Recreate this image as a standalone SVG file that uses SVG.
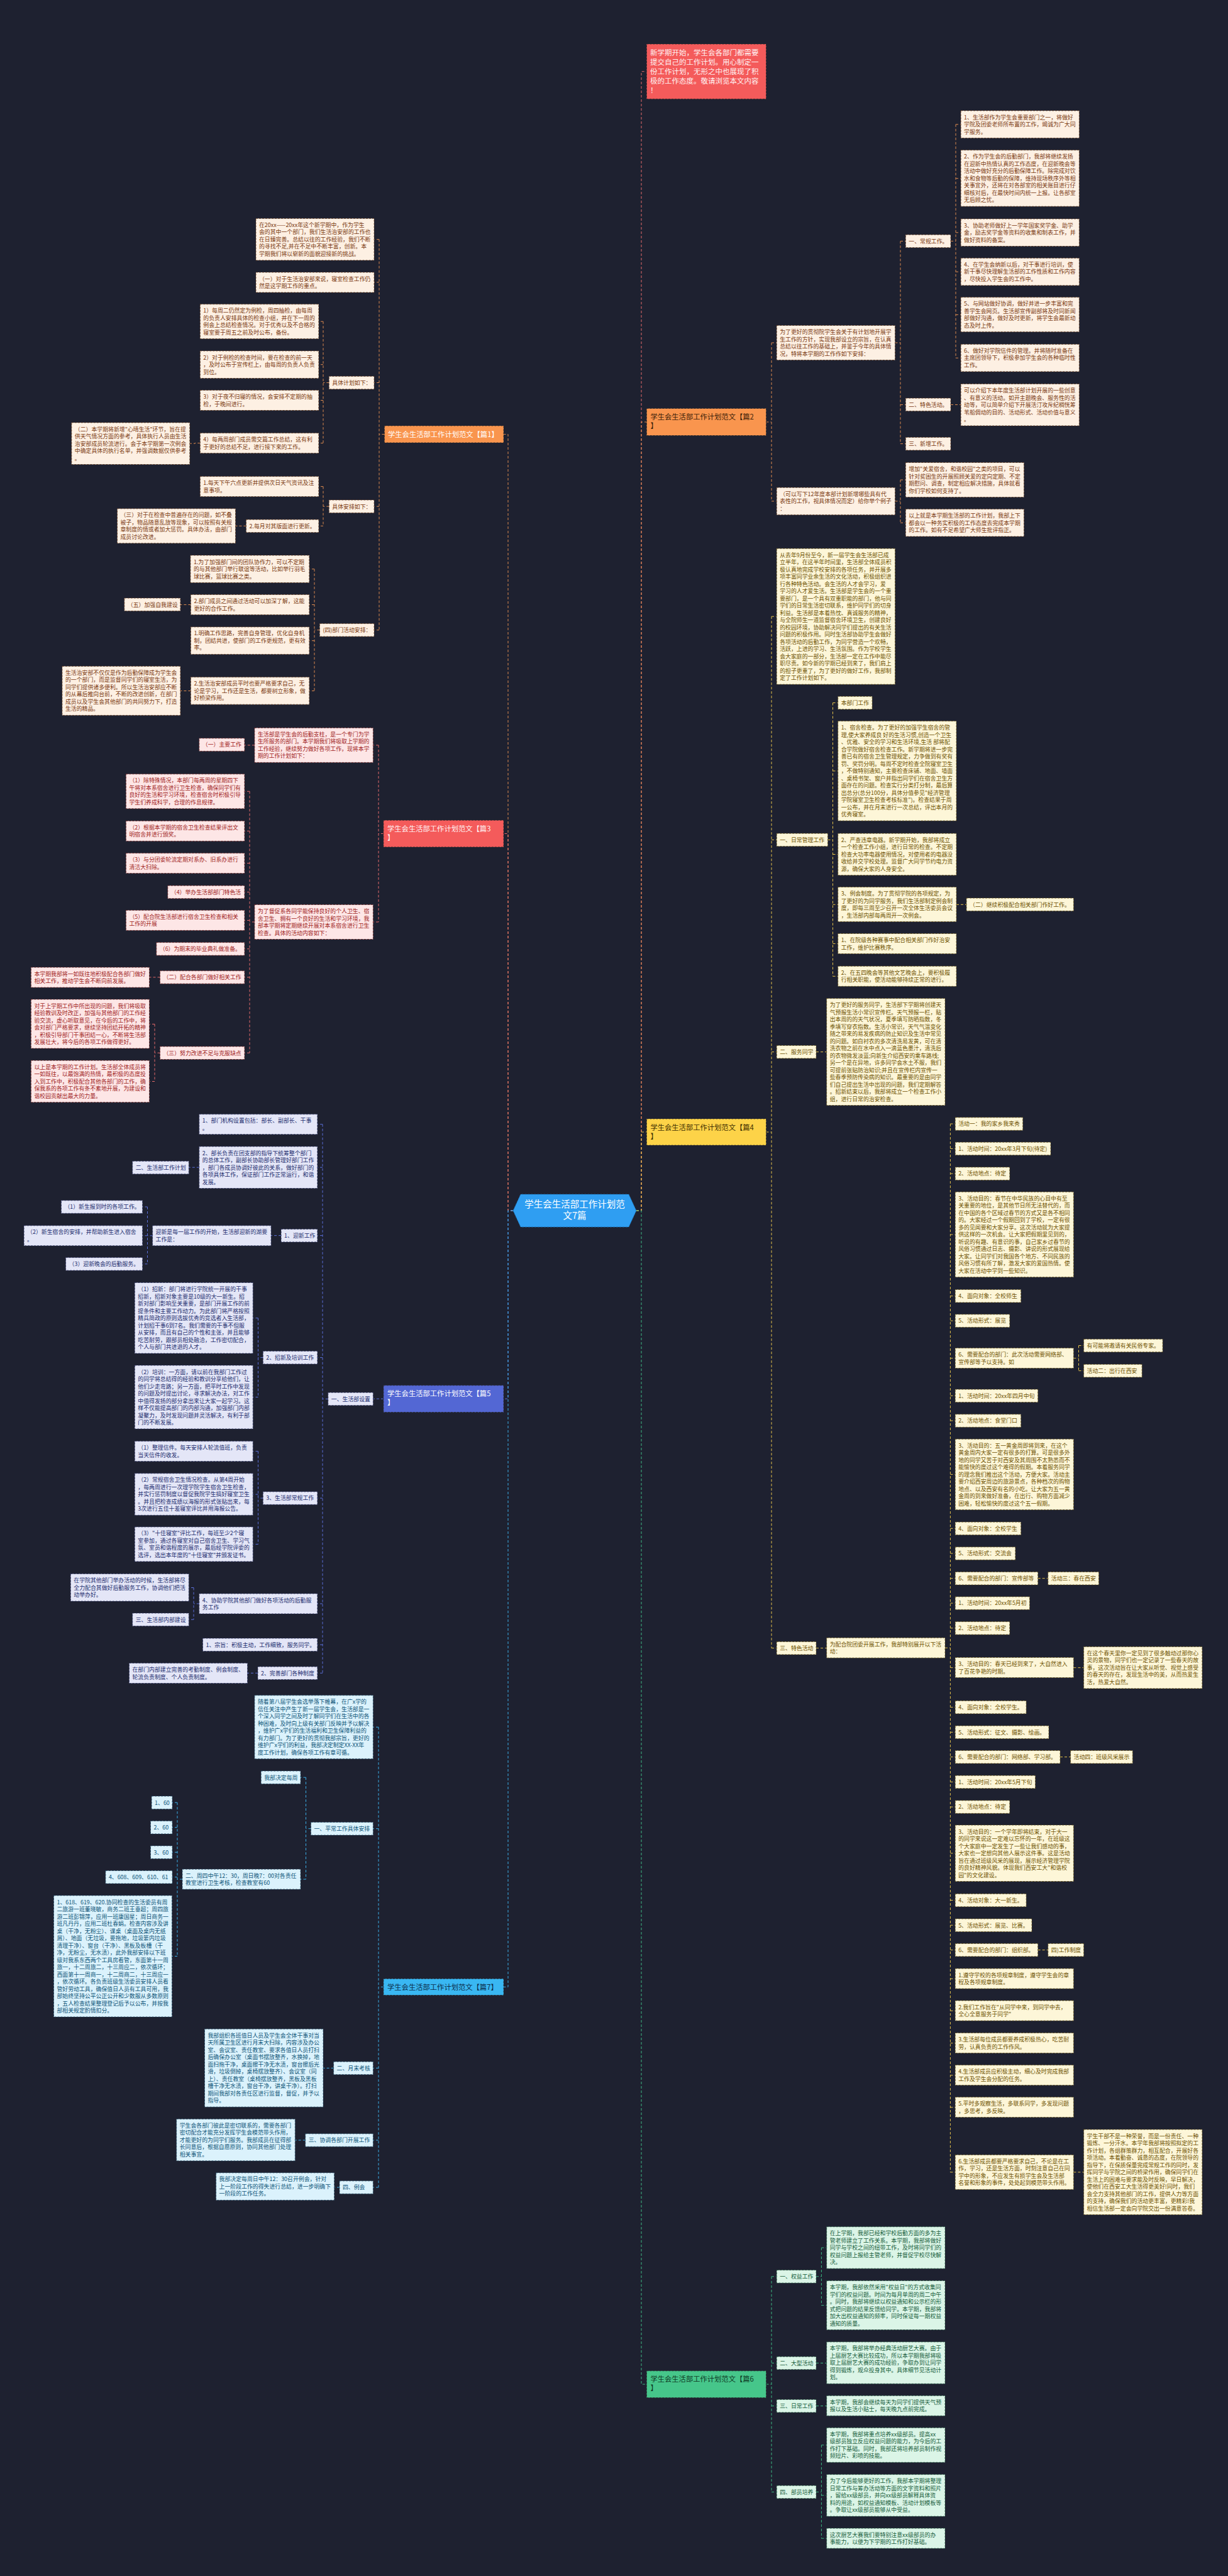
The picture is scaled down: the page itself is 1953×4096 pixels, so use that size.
<svg xmlns="http://www.w3.org/2000/svg" width="1953" height="4096" viewBox="0 0 1953 4096">
<style>
text{font-family:"Noto Sans CJK SC","Noto Sans CJK JP","Liberation Sans",sans-serif;font-size:8.9px}
.n rect{stroke-width:0.8;stroke-dasharray:3 2}
.c1 rect{fill:#fdf0e3;stroke:#5a3418}.c1 text{fill:#7a3910}
.c3 rect{fill:#fde6e6;stroke:#6a2020}.c3 text{fill:#a11d1d}
.c5 rect{fill:#e4e6f7;stroke:#2a3060}.c5 text{fill:#222c6e}
.c7 rect{fill:#dbf2fc;stroke:#1d4560}.c7 text{fill:#0c5478}
.c4 rect{fill:#fdf6d8;stroke:#5c4a10}.c4 text{fill:#6e5200}
.c6 rect{fill:#dbf5e7;stroke:#1d5038}.c6 text{fill:#155c3a}
.b text{font-size:11.3px}
.b rect{stroke-width:0.8;stroke-dasharray:3 2;stroke:#2a2a2a}
.bo rect{fill:#f9954e}.bo text{fill:#ffffff}
.bo2 rect{fill:#f9954e}.bo2 text{fill:#3a2008}
.br rect{fill:#f45b5b}.br text{fill:#fff3f3}
.bb rect{fill:#5367d4}.bb text{fill:#ffffff}
.bc rect{fill:#39b7f2}.bc text{fill:#0c2d4a}
.by rect{fill:#fdd348}.by text{fill:#3d2e00}
.bg2 rect{fill:#46c68a}.bg2 text{fill:#0e3a25}
.k{fill:none;stroke-width:1;stroke-dasharray:4 3}
.k1{stroke:#d9894f}.k3{stroke:#e26a6a}.k5{stroke:#5b6fd8}.k7{stroke:#3aaee6}.k4{stroke:#e3c14b}.k6{stroke:#3cb882}.kr{stroke:#e26a6a}
</style>
<rect width="1953" height="4096" fill="#1e2130"/>

<g id="connectors">
<path class="k k1" d="M816,1925H808V690.5H801"/>
<path class="k k3" d="M816,1925H808V1325.5H801"/>
<path class="k k5" d="M816,1925H808V2224.2H801"/>
<path class="k k7" d="M816,1925H808V3159.4H801"/>
<path class="k kr" d="M1012,1925H1020V113.7H1028.4"/>
<path class="k k1" d="M1012,1925H1020V671H1028.4"/>
<path class="k k4" d="M1012,1925H1020V1800H1028.4"/>
<path class="k k6" d="M1012,1925H1020V3791.1H1028.4"/>

<path class="k k1" d="M611.4,690.5H603M603,380.7V1001.8M603,380.7H595M603,448.8H595M603,608.5H595M603,805.2H595M603,1001.8H595
M523.3,608.5H514M514,511.2V704.6M514,511.2H506.9M514,579.7H506.9M514,636.5H506.9M514,704.6H506.9
M318.3,704.6H310V705.2H301.8
M523.3,805.2H514M514,773.6V836.3M514,773.6H506.9M514,836.3H506.9
M391.5,836.3H374.5
M508.4,1001.8H500M500,904.8V1098.5M500,904.8H491.9M500,961.5H491.9M500,1018.7H491.9M500,1098.5H491.9
M303.4,961.5H286.9M303.4,1098.5H286.9"/>

<path class="k k3" d="M609.9,1325.5H602M602,1184.9V1466M602,1184.9H593.4M602,1466H593.4
M404.9,1184.9H388.9
M404.9,1466H397M397,1258.3V1674.2M397,1258.3H388.9M397,1321.4H388.9M397,1372.6H388.9M397,1418.4H388.9M397,1463.4H388.9M397,1508.8H388.9M397,1553.9H388.9M397,1674.2H388.9
M254.5,1553.9H237.5
M254.5,1674.2H246M246,1628.4V1719.5M246,1628.4H237.5M246,1719.5H237.5"/>

<path class="k k5" d="M609.9,2224.2H593.4
M521.8,2224.4H513M513,1787.7V2660.3M513,1787.7H504.8M513,1856.2H504.8M513,1964.6H504.8M513,2158.6H504.8M513,2382.1H504.8M513,2550H504.8M513,2615.2H504.8M513,2660.3H504.8
M316.8,1856.2H300.3
M447.1,1964.6H431.1
M242.6,1964.8H234.5M234.5,1919V2009.8M234.5,1919H226.6M234.5,1964.8H226.6M234.5,2009.8H226.6
M418.3,2158.6H410.5M410.5,2095.8V2221.5M410.5,2095.8H402.3M410.5,2221.5H402.3
M418.3,2382.1H410.5M410.5,2307.6V2455.4M410.5,2307.6H402.3M410.5,2376.1H402.3M410.5,2455.4H402.3
M316.8,2550H308M308,2524.5V2575.2M308,2524.5H300.3M308,2575.2H300.3
M410,2660.3H393.5"/>

<path class="k k7" d="M609.9,3159.4H602M602,2746.2V3478M602,2746.2H593.4M602,2907.7H593.4M602,3288.4H593.4M602,3403H593.4M602,3478H593.4
M494.5,2907.7H486.5M486.5,2826.2V2988.1M486.5,2826.2H478M486.5,2988.1H478
M290,2988.1H282M282,2866.2V3110.5M282,2866.2H274M282,2905.7H274M282,2945.2H274M282,2984.7H274M282,3110.5H274
M530.6,3288.4H514
M485.7,3403H469.3
M540,3478H531.6"/>

<path class="k k1" d="M1218.5,671H1227M1227,545V796.9M1227,545H1235.2M1227,796.9H1235.2
M1423.5,545H1432M1432,383.4V705.6M1432,383.4H1440.3M1432,643.5H1440.3M1432,705.6H1440.3
M1512,383.4H1520M1520,197.8V569.2M1520,197.8H1528.1M1520,283.7H1528.1M1520,369.8H1528.1M1520,432.2H1528.1M1520,500.4H1528.1M1520,569.2H1528.1
M1512,643.5H1528.1
M1423.5,796.9H1432M1432,763V831.3M1432,763H1440.3M1432,831.3H1440.3"/>

<path class="k k4" d="M1218.5,1800H1227M1227,980.2V2620.6M1227,980.2H1235.2M1227,1335.4H1235.2M1227,1672.6H1235.2M1227,2620.6H1235.2
M1316.5,1335.4H1324.5M1324.5,1117.5V1552.3M1324.5,1117.5H1332.7M1324.5,1225.9H1332.7M1324.5,1358.5H1332.7M1324.5,1438.3H1332.7M1324.5,1500.5H1332.7M1324.5,1552.3H1332.7
M1521,1438.3H1537.1
M1298,1672.6H1314.7
M1298,2620.6H1314.7
M1503,2620.2H1511.4M1511.4,1787V3453.9M1511.4,1787H1519.2M1511.4,1826.4H1519.2M1511.4,1866.1H1519.2M1511.4,1963H1519.2M1511.4,2060.7H1519.2M1511.4,2100.1H1519.2M1511.4,2159.7H1519.2M1511.4,2219.3H1519.2M1511.4,2259H1519.2M1511.4,2344.4H1519.2M1511.4,2430.3H1519.2M1511.4,2470H1519.2M1511.4,2509.7H1519.2M1511.4,2549.1H1519.2M1511.4,2588.8H1519.2M1511.4,2651.7H1519.2M1511.4,2714.6H1519.2M1511.4,2754.3H1519.2M1511.4,2793.7H1519.2M1511.4,2833.4H1519.2M1511.4,2873.1H1519.2M1511.4,2946.8H1519.2M1511.4,3021.5H1519.2M1511.4,3061.2H1519.2M1511.4,3100.6H1519.2M1511.4,3146.3H1519.2M1511.4,3197.3H1519.2M1511.4,3248.7H1519.2M1511.4,3299.8H1519.2M1511.4,3350.8H1519.2M1511.4,3453.9H1519.2
M1707.4,2159.7H1715.5M1715.5,2139.5V2179.6M1715.5,2139.5H1723.6M1715.5,2179.6H1723.6
M1650.7,2509.7H1666.8
M1707.4,2651.7H1723.6
M1686,2793.7H1702.6
M1650.7,3100.6H1666.8
M1707.4,3453.9H1723.6"/>

<path class="k k6" d="M1218.5,3791.1H1227M1227,3619.8V3962.4M1227,3619.8H1235.2M1227,3757.4H1235.2M1227,3825.6H1235.2M1227,3962.4H1235.2
M1298,3619.8H1306.4M1306.4,3574V3665.6M1306.4,3574H1314.7M1306.4,3665.6H1314.7
M1298,3757.4H1314.7
M1298,3825.6H1314.7
M1298,3962.4H1306.4M1306.4,3887.8V4036.2M1306.4,3887.8H1314.7M1306.4,3967.8H1314.7M1306.4,4036.2H1314.7"/>
</g>

<g id="center">
<polygon points="816,1925 828,1899 1000,1899 1012,1925 1000,1951 828,1951" fill="#2f9ef2" stroke="#1b6fb0" stroke-width="0.8" stroke-dasharray="3 2"/>
<text x="914" y="1920" text-anchor="middle" fill="#ffffff" style="font-size:14.5px">学生会生活部工作计划范</text>
<text x="914" y="1938" text-anchor="middle" fill="#ffffff" style="font-size:14.5px">文7篇</text>
</g>

<g id="intro" class="b br"><rect x="1028.4" y="70" width="190.1" height="87.4"/>
<text x="1034" y="88.2" style="font-size:11.5px"><tspan x="1034">新学期开始，学生会各部门都需要</tspan><tspan x="1034" dy="14.9">提交自己的工作计划。用心制定一</tspan><tspan x="1034" dy="14.9">份工作计划，无形之中也展现了积</tspan><tspan x="1034" dy="14.9">极的工作态度。敬请浏览本文内容</tspan><tspan x="1034" dy="14.9">！</tspan></text></g>

<!-- 篇1 -->
<g id="B1" class="b bo"><rect x="611.4" y="677" width="189.6" height="27"/><text x="617" y="694.7">学生会生活部工作计划范文【篇1】</text></g>
<g id="L1" class="n c1"><rect x="407" y="347.4" width="188" height="66.5"/><text x="412" y="360.9"><tspan x="412">在20xx——20xx年这个新学期中，作为学生</tspan><tspan x="412" dy="11.5">会的其中一个部门，我们生活治安部的工作也</tspan><tspan x="412" dy="11.5">在日臻完善。总结以往的工作经验，我们不断</tspan><tspan x="412" dy="11.5">的寻找不足,并在不足中不断丰富，创新。本</tspan><tspan x="412" dy="11.5">学期我们将以崭新的面貌迎接新的挑战。</tspan></text></g>
<g id="L2" class="n c1"><rect x="407" y="433" width="188" height="32"/><text x="412" y="446.5"><tspan x="412">（一）对于生活治安部来说，寝室检查工作仍</tspan><tspan x="412" dy="11.5">然是这学期工作的重点。</tspan></text></g>
<g id="L3" class="n c1"><rect x="318.3" y="483.7" width="188.6" height="55"/><text x="323.3" y="497.2"><tspan x="323.3">1）每周二仍然定为例检，周四抽检，由每周</tspan><tspan x="323.3" dy="11.5">的负责人安排具体的检查小组，并在下一周的</tspan><tspan x="323.3" dy="11.5">例会上总结检查情况。对于优秀以及不合格的</tspan><tspan x="323.3" dy="11.5">寝室要于周五之前及时公布，备份。</tspan></text></g>
<g id="L4" class="n c1"><rect x="318.3" y="558" width="188.6" height="43.5"/><text x="323.3" y="571.5"><tspan x="323.3">2）对于例检的检查时间，要在检查的前一天</tspan><tspan x="323.3" dy="11.5">，及时公布于宣传栏上，由每周的负责人负责</tspan><tspan x="323.3" dy="11.5">到位。</tspan></text></g>
<g id="L5" class="n c1"><rect x="523.3" y="598.3" width="71.7" height="20.5"/><text x="528.3" y="611.8">具体计划如下：</text></g>
<g id="L6" class="n c1"><rect x="318.3" y="620.5" width="188.6" height="32"/><text x="323.3" y="634"><tspan x="323.3">3）对于夜不归寝的情况，会安排不定期的抽</tspan><tspan x="323.3" dy="11.5">检，于晚间进行。</tspan></text></g>
<g id="L7" class="n c1"><rect x="113.8" y="672" width="188" height="66.5"/><text x="118.8" y="685.5"><tspan x="118.8">（二）本学期将新增"心晴生活"环节，旨在提</tspan><tspan x="118.8" dy="11.5">供天气情况方面的参考，具体执行人员由生活</tspan><tspan x="118.8" dy="11.5">治安部成员轮流进行。会于本学期第一次例会</tspan><tspan x="118.8" dy="11.5">中确定具体的执行名单，并强调数据仅供参考</tspan><tspan x="118.8" dy="11.5">。</tspan></text></g>
<g id="L8" class="n c1"><rect x="318.3" y="688.6" width="188.6" height="32"/><text x="323.3" y="702.1"><tspan x="323.3">4）每两周部门成员需交篇工作总结，这有利</tspan><tspan x="323.3" dy="11.5">于更好的总结不足，进行接下来的工作。</tspan></text></g>
<g id="L10" class="n c1"><rect x="318.3" y="757.6" width="188.6" height="32"/><text x="323.3" y="771.1"><tspan x="323.3">1.每天下午六点更新并提供次日天气资讯及注</tspan><tspan x="323.3" dy="11.5">意事项。</tspan></text></g>
<g id="L11" class="n c1"><rect x="523.3" y="795" width="71.7" height="20.5"/><text x="528.3" y="808.5">具体安排如下：</text></g>
<g id="L12" class="n c1"><rect x="186.5" y="808.8" width="188" height="55"/><text x="191.5" y="822.3"><tspan x="191.5">（三）对于在检查中普遍存在的问题，如不叠</tspan><tspan x="191.5" dy="11.5">被子，物品随意乱放等现象，可以按照有关规</tspan><tspan x="191.5" dy="11.5">章制度的情或者加大惩罚。具体办法，由部门</tspan><tspan x="191.5" dy="11.5">成员讨论改进。</tspan></text></g>
<g id="L12b" class="n c1"><rect x="391.5" y="826.1" width="115.4" height="20.5"/><text x="396.5" y="839.6">2.每月对其版面进行更新。</text></g>
<g id="L13" class="n c1"><rect x="302.9" y="883" width="189" height="43.5"/><text x="307.9" y="896.5"><tspan x="307.9">1.为了加强部门间的团队协作力，可以不定期</tspan><tspan x="307.9" dy="11.5">的与其他部门举行联谊等活动，比如举行羽毛</tspan><tspan x="307.9" dy="11.5">球比赛，篮球比赛之类。</tspan></text></g>
<g id="L14" class="n c1"><rect x="197.8" y="951" width="89.1" height="20.5"/><text x="202.8" y="964.5">（五）加强自我建设</text></g>
<g id="L15" class="n c1"><rect x="303.4" y="945.5" width="188.5" height="32"/><text x="308.4" y="959"><tspan x="308.4">2.部门成员之间通过活动可以加深了解，这能</tspan><tspan x="308.4" dy="11.5">更好的合作工作。</tspan></text></g>
<g id="L16" class="n c1"><rect x="508.4" y="991.6" width="86.6" height="20.5"/><text x="513.4" y="1005.1">(四)部门活动安排：</text></g>
<g id="L17" class="n c1"><rect x="303.4" y="996.9" width="188.5" height="43.5"/><text x="308.4" y="1010.4"><tspan x="308.4">1.明确工作思路，完善自身管理，优化自身机</tspan><tspan x="308.4" dy="11.5">制，团结共进，使部门的工作更规范，更有效</tspan><tspan x="308.4" dy="11.5">率。</tspan></text></g>
<g id="L18" class="n c1"><rect x="98.9" y="1059.4" width="188" height="78"/><text x="103.9" y="1072.9"><tspan x="103.9">生活治安部不仅仅是作为后勤保障成为学生会</tspan><tspan x="103.9" dy="11.5">的一个部门，而是监督同学们的寝室生活，为</tspan><tspan x="103.9" dy="11.5">同学们提供诸多便利。所以生活治安部应不断</tspan><tspan x="103.9" dy="11.5">的从幕后推向台前，不断的改进创新，在部门</tspan><tspan x="103.9" dy="11.5">成员以及学生会其他部门的共同努力下，打造</tspan><tspan x="103.9" dy="11.5">生活的精品。</tspan></text></g>
<g id="L19" class="n c1"><rect x="303.4" y="1076.7" width="188.5" height="43.5"/><text x="308.4" y="1090.2"><tspan x="308.4">2.生活治安部成员平时也要严格要求自己，无</tspan><tspan x="308.4" dy="11.5">论是学习，工作还是生活，都要树立形象，做</tspan><tspan x="308.4" dy="11.5">好桥梁作用。</tspan></text></g>

<!-- 篇3 -->
<g id="B3" class="b br"><rect x="609.9" y="1304.2" width="191.1" height="42.7"/><text x="616" y="1321.7"><tspan x="616">学生会生活部工作计划范文【篇3</tspan><tspan x="616" dy="14.1">】</tspan></text></g>
<g id="L20" class="n c3"><rect x="404.9" y="1157.4" width="188.5" height="55"/><text x="409.9" y="1170.9"><tspan x="409.9">生活部是学生会的后勤支柱，是一个专门为学</tspan><tspan x="409.9" dy="11.5">生所服务的部门。本学期我们将吸取上学期的</tspan><tspan x="409.9" dy="11.5">工作经验，继续努力做好各项工作，现将本学</tspan><tspan x="409.9" dy="11.5">期的工作计划如下：</tspan></text></g>
<g id="L21" class="n c3"><rect x="316.8" y="1173.9" width="72.1" height="20.5"/><text x="321.8" y="1187.4">（一）主要工作</text></g>
<g id="L22" class="n c3"><rect x="200.4" y="1230.8" width="188.5" height="55"/><text x="205.4" y="1244.3"><tspan x="205.4">（1）除特殊情况，本部门每两周的星期四下</tspan><tspan x="205.4" dy="11.5">午将对本系宿舍进行卫生检查，确保同学们有</tspan><tspan x="205.4" dy="11.5">良好的生活和学习环境，检查宿舍时积极引导</tspan><tspan x="205.4" dy="11.5">学生们养成科学，合理的作息规律。</tspan></text></g>
<g id="L24" class="n c3"><rect x="200.4" y="1305.4" width="188.5" height="32"/><text x="205.4" y="1318.9"><tspan x="205.4">（2）根据本学期的宿舍卫生检查结果评出文</tspan><tspan x="205.4" dy="11.5">明宿舍并进行颁奖。</tspan></text></g>
<g id="L25" class="n c3"><rect x="200.4" y="1356.6" width="188.5" height="32"/><text x="205.4" y="1370.1"><tspan x="205.4">（3）与分团委轮流定期对系办、旧系办进行</tspan><tspan x="205.4" dy="11.5">清洁大扫除。</tspan></text></g>
<g id="L26" class="n c3"><rect x="266.8" y="1408.2" width="122.1" height="20.5"/><text x="271.8" y="1421.7">（4）举办生活部部门特色活</text></g>
<g id="L27" class="n c3"><rect x="404.9" y="1438.5" width="188.5" height="55"/><text x="409.9" y="1452"><tspan x="409.9">为了督促系各同学能保持良好的个人卫生、宿</tspan><tspan x="409.9" dy="11.5">舍卫生、拥有一个良好的生活和学习环境，我</tspan><tspan x="409.9" dy="11.5">部本学期将定期继续开展对本系宿舍进行卫生</tspan><tspan x="409.9" dy="11.5">检查。具体的活动内容如下：</tspan></text></g>
<g id="L28" class="n c3"><rect x="200.4" y="1447.4" width="188.5" height="32"/><text x="205.4" y="1460.9"><tspan x="205.4">（5）配合院生活部进行宿舍卫生检查和相关</tspan><tspan x="205.4" dy="11.5">工作的开展</tspan></text></g>
<g id="L29" class="n c3"><rect x="248.8" y="1498.6" width="140.1" height="20.5"/><text x="253.8" y="1512.1">（6）为期末的毕业典礼做准备。</text></g>
<g id="L30" class="n c3"><rect x="49.4" y="1538.1" width="188.1" height="32"/><text x="54.4" y="1551.6"><tspan x="54.4">本学期我部将一如既往地积极配合各部门做好</tspan><tspan x="54.4" dy="11.5">相关工作，推动学生会不断向前发展。</tspan></text></g>
<g id="L31" class="n c3"><rect x="254.5" y="1543.7" width="134.4" height="20.5"/><text x="259.5" y="1557.2">（二）配合各部门做好相关工作</text></g>
<g id="L32" class="n c3"><rect x="49.4" y="1589" width="188.1" height="78"/><text x="54.4" y="1602.5"><tspan x="54.4">对于上学期工作中所出现的问题，我们将吸取</tspan><tspan x="54.4" dy="11.5">经验教训及时改正，加强与其他部门的工作经</tspan><tspan x="54.4" dy="11.5">验交流，虚心听取意见，在今后的工作中，将</tspan><tspan x="54.4" dy="11.5">会对部门严格要求，继续坚持团结开拓的精神</tspan><tspan x="54.4" dy="11.5">，积极引导部门干事团结一心，不断将生活部</tspan><tspan x="54.4" dy="11.5">发展壮大，将今后的各项工作做得更好。</tspan></text></g>
<g id="L33" class="n c3"><rect x="254.5" y="1664" width="134.4" height="20.5"/><text x="259.5" y="1677.5">（三）努力改进不足与克服缺点</text></g>
<g id="L34" class="n c3"><rect x="49.4" y="1686.2" width="188.1" height="66.5"/><text x="54.4" y="1699.7"><tspan x="54.4">以上是本学期的工作计划。生活部全体成员将</tspan><tspan x="54.4" dy="11.5">一如既往，以最饱满的热情，最积极的态度投</tspan><tspan x="54.4" dy="11.5">入到工作中，积极配合其他各部门的工作，确</tspan><tspan x="54.4" dy="11.5">保我系的各项工作有条不紊地开展，为建设和</tspan><tspan x="54.4" dy="11.5">谐校园贡献出最大的力量。</tspan></text></g>

<!-- 篇5 -->
<g id="B5" class="b bb"><rect x="609.9" y="2202.8" width="191.1" height="42.8"/><text x="616" y="2220.3"><tspan x="616">学生会生活部工作计划范文【篇5</tspan><tspan x="616" dy="14.1">】</tspan></text></g>
<g id="L35" class="n c5"><rect x="316.8" y="1771.7" width="188" height="32"/><text x="321.8" y="1785.2"><tspan x="321.8">1、部门机构设置包括：部长、副部长、干事</tspan><tspan x="321.8" dy="11.5">。</tspan></text></g>
<g id="L36" class="n c5"><rect x="210.7" y="1846.3" width="89.6" height="20.5"/><text x="215.7" y="1859.8">二、生活部工作计划</text></g>
<g id="L37" class="n c5"><rect x="316.8" y="1823" width="188" height="66.5"/><text x="321.8" y="1836.5"><tspan x="321.8">2、部长负责在团支部的指导下统筹整个部门</tspan><tspan x="321.8" dy="11.5">的总体工作，副部长协助部长管理好部门工作</tspan><tspan x="321.8" dy="11.5">，部门各成员协调好彼此的关系，做好部门的</tspan><tspan x="321.8" dy="11.5">各项具体工作，保证部门工作正常运行，和谐</tspan><tspan x="321.8" dy="11.5">发展。</tspan></text></g>
<g id="L38" class="n c5"><rect x="97.4" y="1908.8" width="129.2" height="20.5"/><text x="102.4" y="1922.3">（1）新生报到时的各项工作。</text></g>
<g id="L39" class="n c5"><rect x="38.1" y="1948.8" width="188.5" height="32"/><text x="43.1" y="1962.3"><tspan x="43.1">（2）新生宿舍的安排，并帮助新生进入宿舍</tspan><tspan x="43.1" dy="11.5">。</tspan></text></g>
<g id="L40" class="n c5"><rect x="242.6" y="1948.8" width="188.5" height="32"/><text x="247.6" y="1962.3"><tspan x="247.6">迎新是每一届工作的开始，生活部迎新的湖要</tspan><tspan x="247.6" dy="11.5">工作是：</tspan></text></g>
<g id="L41" class="n c5"><rect x="447.1" y="1954.4" width="57.7" height="20.5"/><text x="452.1" y="1967.9">1、迎新工作</text></g>
<g id="L42" class="n c5"><rect x="104.6" y="1999.6" width="122" height="20.5"/><text x="109.6" y="2013.1">（3）迎新晚会的后勤服务。</text></g>
<g id="L43" class="n c5"><rect x="214.3" y="2039.5" width="188" height="112.5"/><text x="219.3" y="2053"><tspan x="219.3">（1）招新：部门将进行学院统一开展的干事</tspan><tspan x="219.3" dy="11.5">招新，招新对象主要是10级的大一新生。招</tspan><tspan x="219.3" dy="11.5">新对部门影响至关重要，是部门开展工作的前</tspan><tspan x="219.3" dy="11.5">提条件和主要工作动力。为此部门将严格按照</tspan><tspan x="219.3" dy="11.5">精兵简政的原则选拔优秀的竞选者入生活部，</tspan><tspan x="219.3" dy="11.5">计划招干事6到7名。我们需要的干事不但服</tspan><tspan x="219.3" dy="11.5">从安排，而且有自己的个性和主张，并且能够</tspan><tspan x="219.3" dy="11.5">吃苦耐劳，跟部员相处融洽，工作密切配合，</tspan><tspan x="219.3" dy="11.5">个人与部门共进退的人才。</tspan></text></g>
<g id="L44" class="n c5"><rect x="418.3" y="2148.4" width="86.5" height="20.5"/><text x="423.3" y="2161.9">2、招新及培训工作</text></g>
<g id="L45" class="n c5"><rect x="214.3" y="2171" width="188" height="101"/><text x="219.3" y="2184.5"><tspan x="219.3">（2）培训：一方面，请以前在我部门工作过</tspan><tspan x="219.3" dy="11.5">的同学将总结得的经验和教训分享给他们，让</tspan><tspan x="219.3" dy="11.5">他们少走弯路；另一方面，把平时工作中发现</tspan><tspan x="219.3" dy="11.5">的问题及时提出讨论，寻求解决办法，对工作</tspan><tspan x="219.3" dy="11.5">中值得发扬的部分拿出来让大家一起学习。这</tspan><tspan x="219.3" dy="11.5">样不仅能提高部门的内部沟通，加强部门内部</tspan><tspan x="219.3" dy="11.5">凝聚力，及时发现问题并灵活解决，有利于部</tspan><tspan x="219.3" dy="11.5">门的不断发展。</tspan></text></g>
<g id="L47" class="n c5"><rect x="521.8" y="2214.2" width="71.6" height="20.5"/><text x="526.8" y="2227.7">一、生活部设置</text></g>
<g id="L48" class="n c5"><rect x="214.3" y="2291.6" width="188" height="32"/><text x="219.3" y="2305.1"><tspan x="219.3">（1）整理信件。每天安排人轮流值班，负责</tspan><tspan x="219.3" dy="11.5">当天信件的收发。</tspan></text></g>
<g id="L49" class="n c5"><rect x="214.3" y="2342.8" width="188" height="66.5"/><text x="219.3" y="2356.3"><tspan x="219.3">（2）常规宿舍卫生情况检查。从第4周开始</tspan><tspan x="219.3" dy="11.5">，每两周进行一次理学院学生宿舍卫生检查，</tspan><tspan x="219.3" dy="11.5">并实行惩罚制度以督促我院学生搞好寝室卫生</tspan><tspan x="219.3" dy="11.5">。并且把检查成绩以海报的形式张贴出来，每</tspan><tspan x="219.3" dy="11.5">3次进行五佳十差寝室评比并用海报公告。</tspan></text></g>
<g id="L50" class="n c5"><rect x="418.3" y="2371.9" width="86.5" height="20.5"/><text x="423.3" y="2385.4">3、生活部常规工作</text></g>
<g id="L51" class="n c5"><rect x="214.3" y="2427.9" width="188" height="55"/><text x="219.3" y="2441.4"><tspan x="219.3">（3）"十佳寝室"评比工作，每班至少2个寝</tspan><tspan x="219.3" dy="11.5">室参加，通过各寝室对自己宿舍卫生、学习气</tspan><tspan x="219.3" dy="11.5">氛、室员和谐程度的展示，最后经学院评委的</tspan><tspan x="219.3" dy="11.5">选评，选出本年度的"十佳寝室"并颁发证书。</tspan></text></g>
<g id="L52" class="n c5"><rect x="112.3" y="2502.5" width="188" height="43.5"/><text x="117.3" y="2516"><tspan x="117.3">在学院其他部门举办活动的时候，生活部将尽</tspan><tspan x="117.3" dy="11.5">全力配合其做好后勤服务工作，协调他们把活</tspan><tspan x="117.3" dy="11.5">动举办好。</tspan></text></g>
<g id="L53" class="n c5"><rect x="316.8" y="2534" width="188" height="32"/><text x="321.8" y="2547.5"><tspan x="321.8">4、协助学院其他部门做好各项活动的后勤服</tspan><tspan x="321.8" dy="11.5">务工作</tspan></text></g>
<g id="L54" class="n c5"><rect x="210.7" y="2565" width="89.6" height="20.5"/><text x="215.7" y="2578.5">三、生活部内部建设</text></g>
<g id="L55" class="n c5"><rect x="322.5" y="2605" width="182.3" height="20.5"/><text x="327.5" y="2618.5">1、宗旨：积极主动，工作细致，服务同学。</text></g>
<g id="L56" class="n c5"><rect x="205.5" y="2644.5" width="188" height="32"/><text x="210.5" y="2658"><tspan x="210.5">在部门内部建立完善的考勤制度、例会制度、</tspan><tspan x="210.5" dy="11.5">轮流负责制度、个人负责制度。</tspan></text></g>
<g id="L57" class="n c5"><rect x="410" y="2650.1" width="94.8" height="20.5"/><text x="415" y="2663.6">2、完善部门各种制度</text></g>

<!-- 篇7 -->
<g id="B7" class="b bc"><rect x="609.9" y="3146.3" width="191.1" height="26.2"/><text x="616" y="3163.6">学生会生活部工作计划范文【篇7】</text></g>
<g id="L58" class="n c7"><rect x="404.9" y="2695.7" width="188.5" height="101"/><text x="409.9" y="2709.2"><tspan x="409.9">随着第八届学生会选举落下帷幕，在广x学的</tspan><tspan x="409.9" dy="11.5">信任关注中产生了新一届学生会，生活部是一</tspan><tspan x="409.9" dy="11.5">个深入同学之间及时了解同学们在生活中的各</tspan><tspan x="409.9" dy="11.5">种困难，及时向上级有关部门反映并予以解决</tspan><tspan x="409.9" dy="11.5">，维护广x学们的生活福利和卫生保障利益的</tspan><tspan x="409.9" dy="11.5">有力部门。为了更好的贯彻我部宗旨，更好的</tspan><tspan x="409.9" dy="11.5">维护广x学们的利益，我部决定制定XX-XX年</tspan><tspan x="409.9" dy="11.5">度工作计划，确保各项工作有章可循。</tspan></text></g>
<g id="L59" class="n c7"><rect x="415.2" y="2816" width="62.8" height="20.5"/><text x="420.2" y="2829.5">我部决定每周</text></g>
<g id="L60" class="n c7"><rect x="241.1" y="2856" width="32.9" height="20.5"/><text x="246.1" y="2869.5">1、60</text></g>
<g id="L61" class="n c7"><rect x="494.5" y="2897.5" width="98.9" height="20.5"/><text x="499.5" y="2911">一、平常工作具体安排</text></g>
<g id="L62" class="n c7"><rect x="239.5" y="2895.5" width="34.5" height="20.5"/><text x="244.5" y="2909">2、60</text></g>
<g id="L63" class="n c7"><rect x="239.5" y="2935" width="34.5" height="20.5"/><text x="244.5" y="2948.5">3、60</text></g>
<g id="L64" class="n c7"><rect x="167.9" y="2974.5" width="106.1" height="20.5"/><text x="172.9" y="2988">4、608、609、610、61</text></g>
<g id="L65" class="n c7"><rect x="290" y="2972.1" width="188" height="32"/><text x="295" y="2985.6"><tspan x="295">二、周四中午12：30，周日晚7：00对各责任</tspan><tspan x="295" dy="11.5">教室进行卫生考核，检查教室有60</tspan></text></g>
<g id="L66" class="n c7"><rect x="85.5" y="3014" width="188" height="193"/><text x="90.5" y="3027.5"><tspan x="90.5">1、618、619、620.协同检查的生活委员有周</tspan><tspan x="90.5" dy="11.5">二旅游一班董晓敏，商务二班王垂超；周四旅</tspan><tspan x="90.5" dy="11.5">游二班彭锦萍，应用一班康国星；周日商务一</tspan><tspan x="90.5" dy="11.5">班凡丹丹，应用二班杜春娟。检查内容涉及讲</tspan><tspan x="90.5" dy="11.5">桌（干净，无粉尘）、课桌（桌面及桌内无纸</tspan><tspan x="90.5" dy="11.5">屑）、地面（无垃圾，要拖地，垃圾篓内垃圾</tspan><tspan x="90.5" dy="11.5">清理干净）、窗台（干净）、黑板及板槽（干</tspan><tspan x="90.5" dy="11.5">净，无粉尘，无水渍），此外我部安排以下班</tspan><tspan x="90.5" dy="11.5">级对我系东西两个工具房看管，东面第十一周</tspan><tspan x="90.5" dy="11.5">旅一，十二周旅二，十三周应二，依次循环；</tspan><tspan x="90.5" dy="11.5">西面第十一周商一，十二周商二，十三周应一</tspan><tspan x="90.5" dy="11.5">，依次循环。各负责班级生活委员安排人员看</tspan><tspan x="90.5" dy="11.5">管好劳动工具，确保值日人员有工具可用，我</tspan><tspan x="90.5" dy="11.5">部始终坚持公平公正公开和少数服从多数原则</tspan><tspan x="90.5" dy="11.5">，五人检查结果整理登记后予以公布，并按我</tspan><tspan x="90.5" dy="11.5">部相关规定酌情扣分。</tspan></text></g>
<g id="L68" class="n c7"><rect x="325.5" y="3226.2" width="188.5" height="124"/><text x="330.5" y="3239.7"><tspan x="330.5">我部组织各班值日人员及学生会全体干事对当</tspan><tspan x="330.5" dy="11.5">天所属卫生区进行月末大扫除，内容涉及办公</tspan><tspan x="330.5" dy="11.5">室、会议室、责任教室、要求各值日人员打扫</tspan><tspan x="330.5" dy="11.5">后确保办公室（桌面书摆放整齐，水换掉，地</tspan><tspan x="330.5" dy="11.5">面扫拖干净，桌面擦干净无水渍，窗台擦后光</tspan><tspan x="330.5" dy="11.5">滑，垃圾倒掉，桌椅摆放整齐）、会议室（同</tspan><tspan x="330.5" dy="11.5">上）、责任教室（桌椅摆放整齐，黑板及黑板</tspan><tspan x="330.5" dy="11.5">槽干净无水渍，窗台干净，讲桌干净）。打扫</tspan><tspan x="330.5" dy="11.5">期间我部对各责任区进行监督，督促，并予以</tspan><tspan x="330.5" dy="11.5">指导。</tspan></text></g>
<g id="L69" class="n c7"><rect x="530.6" y="3278.2" width="62.8" height="20.5"/><text x="535.6" y="3291.7">二、月末考核</text></g>
<g id="L70" class="n c7"><rect x="280.7" y="3369.4" width="188.6" height="66.5"/><text x="285.7" y="3382.9"><tspan x="285.7">学生会各部门彼此是密切联系的，需要各部门</tspan><tspan x="285.7" dy="11.5">密切配合才能充分发挥学生会模范带头作用，</tspan><tspan x="285.7" dy="11.5">才能更好的为同学们服务。我部成员在征得部</tspan><tspan x="285.7" dy="11.5">长同意后，根据自愿原则，协同其他部门处理</tspan><tspan x="285.7" dy="11.5">相关事宜。</tspan></text></g>
<g id="L71" class="n c7"><rect x="485.7" y="3392.8" width="107.7" height="20.5"/><text x="490.7" y="3406.3">三、协调各部门开展工作</text></g>
<g id="L72" class="n c7"><rect x="343.6" y="3454.9" width="188" height="43.5"/><text x="348.6" y="3468.4"><tspan x="348.6">我部决定每周日中午12：30召开例会，针对</tspan><tspan x="348.6" dy="11.5">上一阶段工作的得失进行总结，进一步明确下</tspan><tspan x="348.6" dy="11.5">一阶段的工作任务。</tspan></text></g>
<g id="L73" class="n c7"><rect x="540" y="3467.8" width="53.4" height="20.5"/><text x="545" y="3481.3">四、例会</text></g>

<!-- 篇2 -->
<g id="B2" class="b bo2"><rect x="1028.4" y="649.5" width="190.1" height="43"/><text x="1034.4" y="667"><tspan x="1034.4">学生会生活部工作计划范文【篇2</tspan><tspan x="1034.4" dy="14.1">】</tspan></text></g>
<g id="R1" class="n c1"><rect x="1528.1" y="176" width="188.3" height="43.5"/><text x="1533.1" y="189.5"><tspan x="1533.1">1、生活部作为学生会重要部门之一，将做好</tspan><tspan x="1533.1" dy="11.5">学院及团委老师所布置的工作，竭诚为广大同</tspan><tspan x="1533.1" dy="11.5">学服务。</tspan></text></g>
<g id="R2" class="n c1"><rect x="1528.1" y="238.7" width="188.3" height="89.5"/><text x="1533.1" y="252.2"><tspan x="1533.1">2、作为学生会的后勤部门，我部将继续发扬</tspan><tspan x="1533.1" dy="11.5">在迎新中热情认真的工作态度，在迎新晚会等</tspan><tspan x="1533.1" dy="11.5">活动中做好充分的后勤保障工作。除完成对饮</tspan><tspan x="1533.1" dy="11.5">水和食物等后勤的保障，维持现场秩序外等相</tspan><tspan x="1533.1" dy="11.5">关事宜外，还将在对各部室的相关账目进行仔</tspan><tspan x="1533.1" dy="11.5">细核对后，在最快时间内统一上报。让各部室</tspan><tspan x="1533.1" dy="11.5">无后顾之忧。</tspan></text></g>
<g id="R3" class="n c1"><rect x="1528.1" y="348" width="188.3" height="43.5"/><text x="1533.1" y="361.5"><tspan x="1533.1">3、协助老师做好上一学年国家奖学金、助学</tspan><tspan x="1533.1" dy="11.5">金，励志奖学金等资料的收集和制表工作，并</tspan><tspan x="1533.1" dy="11.5">做好资料的备案。</tspan></text></g>
<g id="R4" class="n c1"><rect x="1440.3" y="373.2" width="71.7" height="20.5"/><text x="1445.3" y="386.7">一、常规工作。</text></g>
<g id="R5" class="n c1"><rect x="1528.1" y="410.4" width="188.3" height="43.5"/><text x="1533.1" y="423.9"><tspan x="1533.1">4、在学生会纳新以后，对干事进行培训，使</tspan><tspan x="1533.1" dy="11.5">新干事尽快理解生活部的工作性质和工作内容</tspan><tspan x="1533.1" dy="11.5">，尽快投入学生会的工作中。</tspan></text></g>
<g id="R6" class="n c1"><rect x="1528.1" y="472.7" width="188.3" height="55"/><text x="1533.1" y="486.2"><tspan x="1533.1">5、与网站做好协调，做好并进一步丰富和完</tspan><tspan x="1533.1" dy="11.5">善学生会网页。生活部宣传副部将及时同新闻</tspan><tspan x="1533.1" dy="11.5">部做好沟通，做好及时更新，将学生会最新动</tspan><tspan x="1533.1" dy="11.5">态及时上传。</tspan></text></g>
<g id="R7" class="n c1"><rect x="1235.2" y="517.5" width="188.3" height="55"/><text x="1240.2" y="531"><tspan x="1240.2">为了更好的贯彻院学生会关于有计划地开展学</tspan><tspan x="1240.2" dy="11.5">生工作的方针，实现我部设立的宗旨，在认真</tspan><tspan x="1240.2" dy="11.5">总结以往工作的基础上，并鉴于今年的具体情</tspan><tspan x="1240.2" dy="11.5">况，特将本学期的工作作如下安排：</tspan></text></g>
<g id="R8" class="n c1"><rect x="1528.1" y="547.4" width="188.3" height="43.5"/><text x="1533.1" y="560.9"><tspan x="1533.1">6、做好对学院信件的管理。并将随时准备在</tspan><tspan x="1533.1" dy="11.5">主席团领导下，积极参加学生会的各种临时性</tspan><tspan x="1533.1" dy="11.5">工作。</tspan></text></g>
<g id="R9" class="n c1"><rect x="1440.3" y="633.1" width="71.7" height="20.5"/><text x="1445.3" y="646.6">二、特色活动。</text></g>
<g id="R10" class="n c1"><rect x="1528.1" y="610.5" width="188.3" height="66.5"/><text x="1533.1" y="624"><tspan x="1533.1">可以介绍下本年度生活部计划开展的一些创意</tspan><tspan x="1533.1" dy="11.5">、有意义的活动。如开主题晚会、服务性的活</tspan><tspan x="1533.1" dy="11.5">动等，可以简单介绍下开展活汀攻斥纪稠恍筹</tspan><tspan x="1533.1" dy="11.5">苇船倜动的目的、活动形式、活动价值与意义</tspan><tspan x="1533.1" dy="11.5">。</tspan></text></g>
<g id="R12" class="n c1"><rect x="1440.3" y="695.4" width="71.7" height="20.5"/><text x="1445.3" y="708.9">三、新增工作。</text></g>
<g id="R13" class="n c1"><rect x="1440.3" y="735.5" width="188.2" height="55"/><text x="1445.3" y="749"><tspan x="1445.3">增加"关爱宿舍，和谐校园"之类的项目，可以</tspan><tspan x="1445.3" dy="11.5">针对贫困生的开展照顾关爱的定向定期、不定</tspan><tspan x="1445.3" dy="11.5">期慰问、调查，制定相应解决措施，具体就看</tspan><tspan x="1445.3" dy="11.5">你们学校如何支持了。</tspan></text></g>
<g id="R14" class="n c1"><rect x="1235.2" y="775.2" width="188.3" height="43.5"/><text x="1240.2" y="788.7"><tspan x="1240.2">（可以写下12年度本部计划新增哪些具有代</tspan><tspan x="1240.2" dy="11.5">表性的工作，视具体情况而定）给你举个例子</tspan><tspan x="1240.2" dy="11.5">：</tspan></text></g>
<g id="R15" class="n c1"><rect x="1440.3" y="809.5" width="188.2" height="43.5"/><text x="1445.3" y="823"><tspan x="1445.3">以上就是本学期生活部的工作计划，我部上下</tspan><tspan x="1445.3" dy="11.5">都会以一种务实积极的工作态度去完成本学期</tspan><tspan x="1445.3" dy="11.5">的工作。如有不足希望广大师生批评指正。</tspan></text></g>

<!-- 篇4 -->
<g id="B4" class="b by"><rect x="1028.4" y="1779" width="190.1" height="42"/><text x="1034.4" y="1796.5"><tspan x="1034.4">学生会生活部工作计划范文【篇4</tspan><tspan x="1034.4" dy="14.1">】</tspan></text></g>
<g id="R16" class="n c4"><rect x="1235.2" y="872.2" width="188.3" height="216"/><text x="1240.2" y="885.7"><tspan x="1240.2">从去年9月份至今，新一届学生会生活部已成</tspan><tspan x="1240.2" dy="11.5">立半年，在这半年时间里，生活部全体成员积</tspan><tspan x="1240.2" dy="11.5">极认真地完成学校安排的各项任务，并开展多</tspan><tspan x="1240.2" dy="11.5">项丰富同学业余生活的文化活动，积极组织进</tspan><tspan x="1240.2" dy="11.5">行各种特色活动。会生活的人才会学习，爱</tspan><tspan x="1240.2" dy="11.5">学习的人才爱生活。生活部是学生会的一个重</tspan><tspan x="1240.2" dy="11.5">要部门，是一个具有双重职能的部门，他与同</tspan><tspan x="1240.2" dy="11.5">学们的日常生活密切联系，维护同学们的切身</tspan><tspan x="1240.2" dy="11.5">利益。生活部是本着热忱、真诚服务的精神，</tspan><tspan x="1240.2" dy="11.5">与全院师生一道监督宿舍环境卫生，创建良好</tspan><tspan x="1240.2" dy="11.5">的校园环境，协助解决同学们提出的有关生活</tspan><tspan x="1240.2" dy="11.5">问题的积极作用。同时生活部协助学生会做好</tspan><tspan x="1240.2" dy="11.5">各项活动的后勤工作，为同学营造一个欢畅，</tspan><tspan x="1240.2" dy="11.5">活跃，上进的学习、生活氛围。作为学校学生</tspan><tspan x="1240.2" dy="11.5">会大家庭的一部分，生活部一定在工作中能尽</tspan><tspan x="1240.2" dy="11.5">职尽责。如今新的学期已经到来了，我们肩上</tspan><tspan x="1240.2" dy="11.5">的担子更重了，为了更好的做好工作，我部制</tspan><tspan x="1240.2" dy="11.5">定了工作计划如下。</tspan></text></g>
<g id="R17" class="n c4"><rect x="1332.7" y="1107.3" width="54.4" height="20.5"/><text x="1337.7" y="1120.8">本部门工作</text></g>
<g id="R18" class="n c4"><rect x="1332.7" y="1146.6" width="188.3" height="158.5"/><text x="1337.7" y="1160.1"><tspan x="1337.7">1、宿舍检查。为了更好的加强学生宿舍的管</tspan><tspan x="1337.7" dy="11.5">理,使大家养成良 好的生活习惯,创造一个卫生</tspan><tspan x="1337.7" dy="11.5">、优雅、安全的学习和生活环境,生活 部将配</tspan><tspan x="1337.7" dy="11.5">合学院做好宿舍检查工作。新学期将进一步完</tspan><tspan x="1337.7" dy="11.5">善已有的宿舍卫生管理规定，力争做到有奖有</tspan><tspan x="1337.7" dy="11.5">罚、奖罚分明。每周不定时检查全院寝室卫生</tspan><tspan x="1337.7" dy="11.5">，不做特别通知，主要检查床铺、地面、墙面</tspan><tspan x="1337.7" dy="11.5">、桌椅书架、窗户并指出同学们在宿舍卫生方</tspan><tspan x="1337.7" dy="11.5">面存在的问题。检查实行分类打分制，最后算</tspan><tspan x="1337.7" dy="11.5">出总分(总分100分，具体分值参见"经济管理</tspan><tspan x="1337.7" dy="11.5">学院寝室卫生检查考核标准")。检查结果于周</tspan><tspan x="1337.7" dy="11.5">一公布，并在月末进行一次总结，评出本月的</tspan><tspan x="1337.7" dy="11.5">优秀寝室。</tspan></text></g>
<g id="R19" class="n c4"><rect x="1235.2" y="1325.2" width="81.3" height="20.5"/><text x="1240.2" y="1338.7">一、日常管理工作</text></g>
<g id="R20" class="n c4"><rect x="1332.7" y="1325.2" width="188.3" height="66.5"/><text x="1337.7" y="1338.7"><tspan x="1337.7">2、严查违章电器。新学期开始，我部将成立</tspan><tspan x="1337.7" dy="11.5">一个检查工作小组，进行日常的检查。不定期</tspan><tspan x="1337.7" dy="11.5">检查大功率电器使用情况，对使用者的电器没</tspan><tspan x="1337.7" dy="11.5">收给并交学校处理。监督广大同学节约电力资</tspan><tspan x="1337.7" dy="11.5">源，确保大家的人身安全。</tspan></text></g>
<g id="R21" class="n c4"><rect x="1332.7" y="1410.5" width="188.3" height="55"/><text x="1337.7" y="1424"><tspan x="1337.7">3、例会制度。为了贯彻学院的各项规定，为</tspan><tspan x="1337.7" dy="11.5">了更好的为同学服务，我们生活部制定例会制</tspan><tspan x="1337.7" dy="11.5">度，即每三周至少召开一次全体生活委员会议</tspan><tspan x="1337.7" dy="11.5">，生活部内部每两周开一次例会。</tspan></text></g>
<g id="R22" class="n c4"><rect x="1537.1" y="1428" width="170.3" height="20.5"/><text x="1542.1" y="1441.5">（二）继续积极配合相关部门作好工作。</text></g>
<g id="R23" class="n c4"><rect x="1332.7" y="1484.5" width="188.3" height="32"/><text x="1337.7" y="1498"><tspan x="1337.7">1、在院级各种赛事中配合相关部门作好治安</tspan><tspan x="1337.7" dy="11.5">工作，维护比赛秩序。</tspan></text></g>
<g id="R24" class="n c4"><rect x="1332.7" y="1536.3" width="188.3" height="32"/><text x="1337.7" y="1549.8"><tspan x="1337.7">2、在五四晚会等其他文艺晚会上，要积极履</tspan><tspan x="1337.7" dy="11.5">行相关职能，使活动能够持续正常的进行。</tspan></text></g>
<g id="R25" class="n c4"><rect x="1314.7" y="1587.6" width="188.3" height="170"/><text x="1319.7" y="1601.1"><tspan x="1319.7">为了更好的服务同学，生活部下学期将创建天</tspan><tspan x="1319.7" dy="11.5">气预报生活小常识宣传栏。天气预报一栏，贴</tspan><tspan x="1319.7" dy="11.5">出本周的的天气状况，夏季填写防晒指数，冬</tspan><tspan x="1319.7" dy="11.5">季填写穿衣指数。生活小常识，天气气温变化</tspan><tspan x="1319.7" dy="11.5">随之带来的易发疾病的防止知识及生活中常见</tspan><tspan x="1319.7" dy="11.5">的问题。如白衬衣的多次清洗易发黄，可在清</tspan><tspan x="1319.7" dy="11.5">洗衣物之前在水中点入一滴蓝色墨汁，清洗后</tspan><tspan x="1319.7" dy="11.5">的衣物微发淡蓝;向新生介绍西安的乘车路线;</tspan><tspan x="1319.7" dy="11.5">另一个是在异地，许多同学会水土不服，我们</tspan><tspan x="1319.7" dy="11.5">可提前张贴防治知识;并且在宣传栏内宣传一</tspan><tspan x="1319.7" dy="11.5">些春季预防传染病的知识。最重要的是由同学</tspan><tspan x="1319.7" dy="11.5">们自己提出生活中出现的问题，我们定期解答</tspan><tspan x="1319.7" dy="11.5">。招新结束以后，我部将成立一个检查工作小</tspan><tspan x="1319.7" dy="11.5">组，进行日常的治安检查。</tspan></text></g>
<g id="R26" class="n c4"><rect x="1235.2" y="1662.4" width="62.8" height="20.5"/><text x="1240.2" y="1675.9">二、服务同学</text></g>
<g id="R28" class="n c4"><rect x="1519.2" y="1776.8" width="107.5" height="20.5"/><text x="1524.2" y="1790.3">活动一：我的家乡我来秀</text></g>
<g id="R29" class="n c4"><rect x="1519.2" y="1816.2" width="151.8" height="20.5"/><text x="1524.2" y="1829.7">1、活动时间：20xx年3月下旬(待定)</text></g>
<g id="R30" class="n c4"><rect x="1519.2" y="1855.9" width="86.6" height="20.5"/><text x="1524.2" y="1869.4">2、活动地点：待定</text></g>
<g id="R31" class="n c4"><rect x="1519.2" y="1895.2" width="188.2" height="135.5"/><text x="1524.2" y="1908.7"><tspan x="1524.2">3、活动目的：春节在中华民族的心目中有至</tspan><tspan x="1524.2" dy="11.5">关重要的地位，是其他节日所无法替代的，而</tspan><tspan x="1524.2" dy="11.5">在中国的各个区域过春节的方式又是各不相同</tspan><tspan x="1524.2" dy="11.5">的。大家经过一个假期回到了学校，一定有很</tspan><tspan x="1524.2" dy="11.5">多的见闻要和大家分享。这次活动就为大家提</tspan><tspan x="1524.2" dy="11.5">供这样的一次机会。让大家把假期里见到的，</tspan><tspan x="1524.2" dy="11.5">听说的有趣、有意识的事，自己家乡过春节的</tspan><tspan x="1524.2" dy="11.5">风俗习惯通过日志、摄影、讲说的形式展现给</tspan><tspan x="1524.2" dy="11.5">大家。让同学们对我国各个地方、不同民族的</tspan><tspan x="1524.2" dy="11.5">风俗习惯有所了解，激发大家的爱国热情。使</tspan><tspan x="1524.2" dy="11.5">大家在活动中学到一些知识。</tspan></text></g>
<g id="R32" class="n c4"><rect x="1519.2" y="2050.5" width="104.5" height="20.5"/><text x="1524.2" y="2064">4、面向对象：全校师生</text></g>
<g id="R33" class="n c4"><rect x="1519.2" y="2089.9" width="86.6" height="20.5"/><text x="1524.2" y="2103.4">5、活动形式：展览</text></g>
<g id="R34" class="n c4"><rect x="1519.2" y="2143.5" width="188.2" height="32"/><text x="1524.2" y="2157"><tspan x="1524.2">6、需要配合的部门：此次活动需要网络部、</tspan><tspan x="1524.2" dy="11.5">宣传部等予以支持。如</tspan></text></g>
<g id="R35" class="n c4"><rect x="1723.6" y="2129.3" width="125.5" height="20.5"/><text x="1728.6" y="2142.8">有可能将邀请有关民俗专家。</text></g>
<g id="R36" class="n c4"><rect x="1723.6" y="2169.4" width="92.6" height="20.5"/><text x="1728.6" y="2182.9">活动二：出行在西安</text></g>
<g id="R37" class="n c4"><rect x="1519.2" y="2209.1" width="131.5" height="20.5"/><text x="1524.2" y="2222.6">1、活动时间：20xx年四月中旬</text></g>
<g id="R38" class="n c4"><rect x="1519.2" y="2248.8" width="104.5" height="20.5"/><text x="1524.2" y="2262.3">2、活动地点：食堂门口</text></g>
<g id="R39" class="n c4"><rect x="1519.2" y="2288.2" width="188.2" height="112.5"/><text x="1524.2" y="2301.7"><tspan x="1524.2">3、活动目的：五一黄金周即将到来，在这个</tspan><tspan x="1524.2" dy="11.5">黄金周内大家一定有很多的打算。可是很多外</tspan><tspan x="1524.2" dy="11.5">地的同学又苦于对西安及其周围不太熟悉而不</tspan><tspan x="1524.2" dy="11.5">能愉快的度过这个难得的假期。本着服务同学</tspan><tspan x="1524.2" dy="11.5">的理念我们推出这个活动，方便大家。活动主</tspan><tspan x="1524.2" dy="11.5">要介绍西安周边的旅游景点，各种档次的购物</tspan><tspan x="1524.2" dy="11.5">地点、以及西安有名的小吃。让大家为五一黄</tspan><tspan x="1524.2" dy="11.5">金周的到来做好准备，在出行、购物方面减少</tspan><tspan x="1524.2" dy="11.5">困难，轻松愉快的度过这个五一假期。</tspan></text></g>
<g id="R40" class="n c4"><rect x="1519.2" y="2420.1" width="104.5" height="20.5"/><text x="1524.2" y="2433.6">4、面向对象：全校学生</text></g>
<g id="R41" class="n c4"><rect x="1519.2" y="2459.8" width="95.6" height="20.5"/><text x="1524.2" y="2473.3">5、活动形式：交流会</text></g>
<g id="R42" class="n c4"><rect x="1519.2" y="2499.5" width="131.5" height="20.5"/><text x="1524.2" y="2513">6、需要配合的部门：宣传部等</text></g>
<g id="R43" class="n c4"><rect x="1666.8" y="2499.5" width="80.7" height="20.5"/><text x="1671.8" y="2513">活动三：春在西安</text></g>
<g id="R44" class="n c4"><rect x="1519.2" y="2538.9" width="118.3" height="20.5"/><text x="1524.2" y="2552.4">1、活动时间：20xx年5月初</text></g>
<g id="R45" class="n c4"><rect x="1519.2" y="2578.6" width="86.6" height="20.5"/><text x="1524.2" y="2592.1">2、活动地点：待定</text></g>
<g id="R46" class="n c4"><rect x="1235.2" y="2610.4" width="62.8" height="20.5"/><text x="1240.2" y="2623.9">三、特色活动</text></g>
<g id="R47" class="n c4"><rect x="1314.7" y="2604.2" width="188.3" height="32"/><text x="1319.7" y="2617.7"><tspan x="1319.7">为配合院团委开展工作，我部特别展开以下活</tspan><tspan x="1319.7" dy="11.5">动：</tspan></text></g>
<g id="R48" class="n c4"><rect x="1519.2" y="2635.5" width="188.2" height="32"/><text x="1524.2" y="2649"><tspan x="1524.2">3、活动目的：春天已经到来了，大自然进入</tspan><tspan x="1524.2" dy="11.5">了百花争艳的时期。</tspan></text></g>
<g id="R49" class="n c4"><rect x="1723.6" y="2618.4" width="188.3" height="66.5"/><text x="1728.6" y="2631.9"><tspan x="1728.6">在这个春天里你一定见到了很多触动过那你心</tspan><tspan x="1728.6" dy="11.5">灵的景物，同学们也一定记录了一些春天的故</tspan><tspan x="1728.6" dy="11.5">事，这次活动旨在让大家从听觉、视觉上感受</tspan><tspan x="1728.6" dy="11.5">的春天的存在，发现生活中的美，从而热爱生</tspan><tspan x="1728.6" dy="11.5">活，热爱大自然。</tspan></text></g>
<g id="R50" class="n c4"><rect x="1519.2" y="2704.4" width="112.9" height="20.5"/><text x="1524.2" y="2717.9">4、面向对象：全校学生。</text></g>
<g id="R51" class="n c4"><rect x="1519.2" y="2744.1" width="148.8" height="20.5"/><text x="1524.2" y="2757.6">5、活动形式：征文、摄影、绘画。</text></g>
<g id="R52" class="n c4"><rect x="1519.2" y="2783.5" width="166.8" height="20.5"/><text x="1524.2" y="2797">6、需要配合的部门：网络部、学习部。</text></g>
<g id="R53" class="n c4"><rect x="1702.6" y="2783.5" width="98.7" height="20.5"/><text x="1707.6" y="2797">活动四：班级风采展示</text></g>
<g id="R54" class="n c4"><rect x="1519.2" y="2823.2" width="127.3" height="20.5"/><text x="1524.2" y="2836.7">1、活动时间：20xx年5月下旬</text></g>
<g id="R55" class="n c4"><rect x="1519.2" y="2862.9" width="86.6" height="20.5"/><text x="1524.2" y="2876.4">2、活动地点：待定</text></g>
<g id="R56" class="n c4"><rect x="1519.2" y="2902" width="188.2" height="89.5"/><text x="1524.2" y="2915.5"><tspan x="1524.2">3、活动目的：一个学年即将结束，对于大一</tspan><tspan x="1524.2" dy="11.5">的同学来说这一定难以忘怀的一年，在班级这</tspan><tspan x="1524.2" dy="11.5">个大家庭中一定发生了一些让我们感动的事，</tspan><tspan x="1524.2" dy="11.5">大家也一定想向其他人展示这件事。这是活动</tspan><tspan x="1524.2" dy="11.5">旨在通过班级风采的展现，展示经济管理学院</tspan><tspan x="1524.2" dy="11.5">的良好精神风貌。体现我们西安工大"和谐校</tspan><tspan x="1524.2" dy="11.5">园"的文化建设。</tspan></text></g>
<g id="R57" class="n c4"><rect x="1519.2" y="3011.3" width="112.9" height="20.5"/><text x="1524.2" y="3024.8">4、活动对象：大一新生。</text></g>
<g id="R58" class="n c4"><rect x="1519.2" y="3051" width="121.8" height="20.5"/><text x="1524.2" y="3064.5">5、活动形式：展览、比赛。</text></g>
<g id="R59" class="n c4"><rect x="1519.2" y="3090.4" width="131.5" height="20.5"/><text x="1524.2" y="3103.9">6、需要配合的部门：组织部。</text></g>
<g id="R60" class="n c4"><rect x="1666.8" y="3090.4" width="56.8" height="20.5"/><text x="1671.8" y="3103.9">四)工作制度</text></g>
<g id="R61" class="n c4"><rect x="1519.2" y="3130.1" width="188.2" height="32"/><text x="1524.2" y="3143.6"><tspan x="1524.2">1.遵守学校的各项规章制度，遵守学生会的章</tspan><tspan x="1524.2" dy="11.5">程及各项规章制度。</tspan></text></g>
<g id="R62" class="n c4"><rect x="1519.2" y="3181.1" width="188.2" height="32"/><text x="1524.2" y="3194.6"><tspan x="1524.2">2.我们工作旨在"从同学中来，到同学中去，</tspan><tspan x="1524.2" dy="11.5">全心全意服务于同学"</tspan></text></g>
<g id="R63" class="n c4"><rect x="1519.2" y="3232.5" width="188.2" height="32"/><text x="1524.2" y="3246"><tspan x="1524.2">3.生活部每位成员都要养成积极热心，吃苦耐</tspan><tspan x="1524.2" dy="11.5">劳，认真负责的工作作风。</tspan></text></g>
<g id="R64" class="n c4"><rect x="1519.2" y="3283.6" width="188.2" height="32"/><text x="1524.2" y="3297.1"><tspan x="1524.2">4.生活部成员应积极主动，细心及时完成我部</tspan><tspan x="1524.2" dy="11.5">工作及学生会分配的任务。</tspan></text></g>
<g id="R65" class="n c4"><rect x="1519.2" y="3334.6" width="188.2" height="32"/><text x="1524.2" y="3348.1"><tspan x="1524.2">5.平时多观察生活，多联系同学，多发现问题</tspan><tspan x="1524.2" dy="11.5">，多思考，多反映。</tspan></text></g>
<g id="R66" class="n c4"><rect x="1519.2" y="3426.4" width="188.2" height="55"/><text x="1524.2" y="3439.9"><tspan x="1524.2">6.生活部成员都要严格要求自己，不论是在工</tspan><tspan x="1524.2" dy="11.5">作，学习，还是生活方面，时刻注意自己在同</tspan><tspan x="1524.2" dy="11.5">学中的形象，不应发生有损学生会及生活部</tspan><tspan x="1524.2" dy="11.5">名誉和形象的事件，处处起到模范带头作用。</tspan></text></g>
<g id="R67" class="n c4"><rect x="1723.6" y="3386" width="188.3" height="135.5"/><text x="1728.6" y="3399.5"><tspan x="1728.6">学生干部不是一种荣誉，而是一份责任、一种</tspan><tspan x="1728.6" dy="11.5">锻炼、一分汗水。本学年我部将按照拟定的工</tspan><tspan x="1728.6" dy="11.5">作计划，各组群策群力，相互配合，开展好各</tspan><tspan x="1728.6" dy="11.5">项活动。本着勤奋、诚恳的态度，在院领导的</tspan><tspan x="1728.6" dy="11.5">指导下，在保质保量完成常规工作的同时，发</tspan><tspan x="1728.6" dy="11.5">挥同学与学院之间的桥梁作用，确保同学们在</tspan><tspan x="1728.6" dy="11.5">生活上的困难与要求能及时反映，早日解决，</tspan><tspan x="1728.6" dy="11.5">使他们在西安工大生活得更美好!同时，我们</tspan><tspan x="1728.6" dy="11.5">会全力支持其他部门的工作，提供人力等方面</tspan><tspan x="1728.6" dy="11.5">的支持，确保我们的活动更丰富，更精彩!我</tspan><tspan x="1728.6" dy="11.5">相信生活部一定会向学院交出一份满意答卷。</tspan></text></g>

<!-- 篇6 -->
<g id="B6" class="b bg2"><rect x="1028.4" y="3769.8" width="190.1" height="42.7"/><text x="1034.4" y="3787.3"><tspan x="1034.4">学生会生活部工作计划范文【篇6</tspan><tspan x="1034.4" dy="14.1">】</tspan></text></g>
<g id="R68" class="n c6"><rect x="1314.7" y="3540.7" width="188.3" height="66.5"/><text x="1319.7" y="3554.2"><tspan x="1319.7">在上学期，我部已经和学校后勤方面的多为主</tspan><tspan x="1319.7" dy="11.5">管老师建立了工作关系。本学期，我部将做好</tspan><tspan x="1319.7" dy="11.5">同学与学校之间的纽带工作，及时将同学们的</tspan><tspan x="1319.7" dy="11.5">权益问题上报给主管老师，并督促学校尽快解</tspan><tspan x="1319.7" dy="11.5">决。</tspan></text></g>
<g id="R69" class="n c6"><rect x="1235.2" y="3609.6" width="62.8" height="20.5"/><text x="1240.2" y="3623.1">一、权益工作</text></g>
<g id="R70" class="n c6"><rect x="1314.7" y="3626.5" width="188.3" height="78"/><text x="1319.7" y="3640"><tspan x="1319.7">本学期，我部依然采用"权益日"的方式收集同</tspan><tspan x="1319.7" dy="11.5">学们的权益问题。时间为每月单周的周二中午</tspan><tspan x="1319.7" dy="11.5">。同时，我部将继续以权益通知和公示栏的形</tspan><tspan x="1319.7" dy="11.5">式把问题的结果反馈给同学。本学期，我部将</tspan><tspan x="1319.7" dy="11.5">加大出权益通知的频率，同时保证每一期权益</tspan><tspan x="1319.7" dy="11.5">通知的质量。</tspan></text></g>
<g id="R71" class="n c6"><rect x="1314.7" y="3723.8" width="188.3" height="66.5"/><text x="1319.7" y="3737.3"><tspan x="1319.7">本学期，我部将举办经典活动厨艺大赛。由于</tspan><tspan x="1319.7" dy="11.5">上届厨艺大赛比较成功，所以本学期我部将吸</tspan><tspan x="1319.7" dy="11.5">取上届厨艺大赛的成功经验，争取办到让同学</tspan><tspan x="1319.7" dy="11.5">得到锻炼，观众投身其中。具体细节见活动计</tspan><tspan x="1319.7" dy="11.5">划。</tspan></text></g>
<g id="R72" class="n c6"><rect x="1235.2" y="3747.2" width="62.8" height="20.5"/><text x="1240.2" y="3760.7">二、大型活动</text></g>
<g id="R74" class="n c6"><rect x="1314.7" y="3809.3" width="188.3" height="32"/><text x="1319.7" y="3822.8"><tspan x="1319.7">本学期，我部会继续每天为同学们提供天气预</tspan><tspan x="1319.7" dy="11.5">报以及生活小贴士，每天晚九点前完成。</tspan></text></g>
<g id="R75" class="n c6"><rect x="1235.2" y="3815.4" width="62.8" height="20.5"/><text x="1240.2" y="3828.9">三、日常工作</text></g>
<g id="R76" class="n c6"><rect x="1314.7" y="3860.3" width="188.3" height="55"/><text x="1319.7" y="3873.8"><tspan x="1319.7">本学期，我部将重点培养xx级部员。提高xx</tspan><tspan x="1319.7" dy="11.5">级部员独立反应权益问题的能力，为今后的工</tspan><tspan x="1319.7" dy="11.5">作打下基础。同时，我部还将培养部员制作视</tspan><tspan x="1319.7" dy="11.5">频短片、彩喷的技能。</tspan></text></g>
<g id="R77" class="n c6"><rect x="1314.7" y="3934.6" width="188.3" height="66.5"/><text x="1319.7" y="3948.1"><tspan x="1319.7">为了今后能够更好的工作，我部本学期将整理</tspan><tspan x="1319.7" dy="11.5">日常工作与筹办活动等方面的文字资料和照片</tspan><tspan x="1319.7" dy="11.5">，留给xx级部员，并向xx级部员解释具体资</tspan><tspan x="1319.7" dy="11.5">料的用途，如权益通知模板、活动计划模板等</tspan><tspan x="1319.7" dy="11.5">。争取让xx级部员能够从中受益。</tspan></text></g>
<g id="R78" class="n c6"><rect x="1235.2" y="3952.2" width="62.8" height="20.5"/><text x="1240.2" y="3965.7">四、部员培养</text></g>
<g id="R79" class="n c6"><rect x="1314.7" y="4020.1" width="188.3" height="32"/><text x="1319.7" y="4033.6"><tspan x="1319.7">这次厨艺大赛我们要特别注意xx级部员的办</tspan><tspan x="1319.7" dy="11.5">事能力，以便为下学期的工作打好基础。</tspan></text></g>
</svg>
